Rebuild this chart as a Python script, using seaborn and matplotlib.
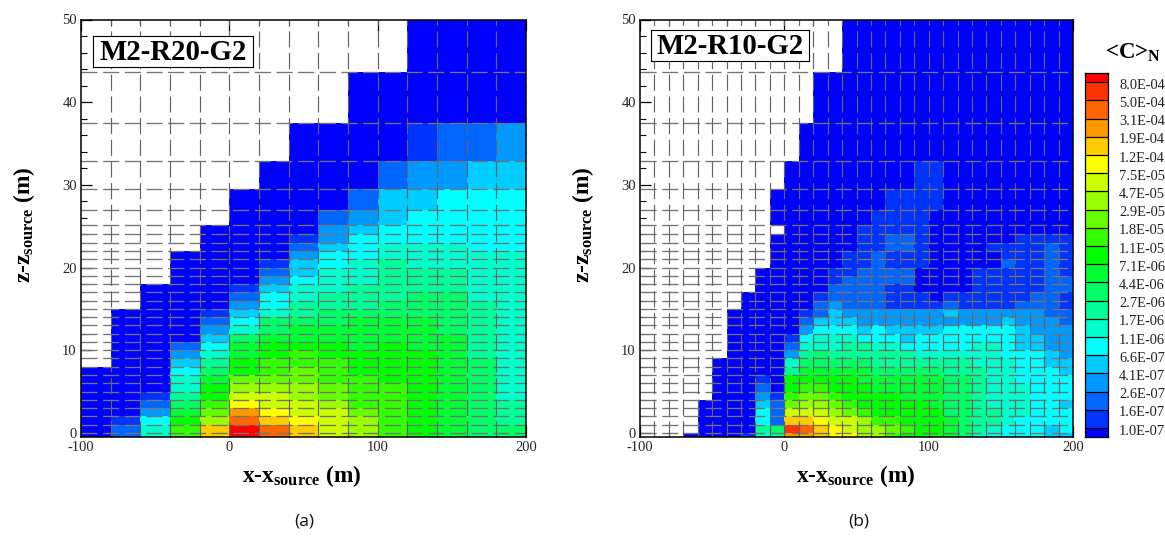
import numpy as np
import matplotlib
matplotlib.use("Agg")
import matplotlib.pyplot as plt
from matplotlib.colors import ListedColormap
from matplotlib.ticker import MultipleLocator
import seaborn as sns

sns.set_theme(style="ticks")
plt.rcParams.update({
    "font.family": ["Liberation Serif", "DejaVu Serif"],
    "mathtext.fontset": "custom",
    "mathtext.rm": "Liberation Serif",
    "mathtext.bf": "Liberation Serif:bold",
    "lines.scale_dashes": False,
    "axes.unicode_minus": False,
})

# Level colours, low (index 0) to high (index 20)
level_colors = ["#0000ff", "#0033ff", "#0066ff", "#0099ff", "#00ccff", "#00ffff", "#00ffcc",
                "#00ff99", "#00ff66", "#00ff33", "#00ff00", "#33ff00", "#66ff00", "#99ff00",
                "#ccff00", "#ffff00", "#ffcc00", "#ff9900", "#ff6600", "#ff3300", "#ff0000"]
level_labels = ["8.0E-04", "5.0E-04", "3.1E-04", "1.9E-04", "1.2E-04", "7.5E-05", "4.7E-05",
                "2.9E-05", "1.8E-05", "1.1E-05", "7.1E-06", "4.4E-06", "2.7E-06", "1.7E-06",
                "1.1E-06", "6.6E-07", "4.1E-07", "2.6E-07", "1.6E-07", "1.0E-07"]
DIGITS = "0123456789abcdefghijk"  # colour level of a cell; '.' = no data

z_upper = [25.2, 27, 29.5, 32.9, 37.5, 43.65, 50]
z_edges_a = [-0.5] + list(range(1, 25)) + z_upper
z_edges_b = [-0.5] + list(range(0, 25)) + z_upper
z_grid = list(range(0, 25)) + z_upper[:-1]
x_edges_a = list(range(-100, 201, 20))
x_edges_b = list(range(-100, 201, 10))

# Panel (a): one string per x column, bottom to top
cols_a = [
    "00000000",
    "210000000000000",
    "653210000000000000",
    "ba98766543200000000000",
    "gdcbaa9876543210000000000",
    "kihfedcaa998654321000000000",
    "igfeedcbbaa98865543210000000",
    "gfeeddccbba998776654432100000",
    "eeedccbbbaa998877666554332000",
    "ddcbbbbaaa99998777666555432000",
    "bbbbbbaaaaa9998877777665544200",
    "aaaaaaaaaa999988877766655543100",
    "9999999999998888877766655553200",
    "8888888887777777666666555554200",
    "8777666666666666666666555554300",
]
# Panel (b): one string per x column, bottom to top
cols_b = [
    "", "", "",
    "0",
    "00000",
    "0000000000",
    "0000000000000000",
    "100000000000000000",
    "675543210000000000000",
    "7822210000000000000000000.00",
    "hjgecbaa763210000000000000000",
    "higedcba98765321" + "0" * 14,
    "ggfedcba98866542" + "21" + "0" * 13,
    "ffedcbaa98766544322" + "11" + "0" * 10,
    "feecbaaa98776543222211" + "1" + "0" * 9,
    "dddbaaa9987754332222211111" + "0" * 6,
    "ddbaaa9987765533" + "2222222" + "1111" + "0" * 5,
    "bcbaaa9987765433" + "111221122111" + "0" * 4,
    "abaaa99987754433" + "111221122111" + "0" * 4,
    "aaaaa99987655433" + "11000" + "11111111" + "000",
    "aaaa999987655433" + "1" + "0" * 10 + "11" + "000",
    "9998888877655534" + "21" + "0" * 14,
    "8888888877655533" + "11" + "0" * 14,
    "6777777776665533" + "11111" + "0" * 11,
    "5677666666665533" + "11111" + "001" + "0" * 8,
    "5566666666555543" + "11111" + "211" + "0" * 8,
    "5556666555544433" + "2" + "11111111" + "0" * 7,
    "5555555555544333" + "22" + "1111111" + "0" * 7,
    "445555555443333" + "222222222" + "1" + "0" * 7,
    "4555455544333322" + "11" + "22" + "11111" + "0" * 7,
]


def to_matrix(cols, nrows):
    m = np.full((nrows, len(cols)), np.nan)
    for j, s in enumerate(cols):
        for i, ch in enumerate(s):
            if ch != ".":
                m[i, j] = DIGITS.index(ch)
    return m


W, H = 1165, 538
fig = plt.figure(figsize=(W / 100, H / 100), dpi=100, facecolor="white")


def px_axes(l, t, r, b):
    return fig.add_axes([l / W, 1 - b / H, (r - l) / W, (b - t) / H])


cmap = ListedColormap(sns.color_palette(level_colors, n_colors=21))
DASH = (0, (11.6, 4.0))


def panel(box, cols, x_edges, z_edges, tag, tag_box):
    ax = px_axes(*box)
    m = to_matrix(cols, len(z_edges) - 1)
    ax.set_facecolor("white")
    ax.pcolormesh(x_edges, z_edges, np.ma.masked_invalid(m), cmap=cmap, vmin=-0.5, vmax=20.5,
                  shading="flat", antialiased=False, linewidth=0, zorder=1)
    ax.set_xlim(-100, 200)
    ax.set_ylim(-0.5, 50)
    for z in z_grid:
        ax.plot([-100, 200], [z, z], color="#747474", lw=0.95, ls=DASH, zorder=2, clip_on=True)
    for x in x_edges[1:-1]:
        ax.plot([x, x], [-0.5, 50], color="#646464", lw=0.85, ls=DASH, zorder=2, clip_on=True)
    ax.xaxis.set_major_locator(MultipleLocator(100))
    ax.xaxis.set_minor_locator(MultipleLocator(20))
    ax.yaxis.set_major_locator(MultipleLocator(10))
    ax.yaxis.set_minor_locator(MultipleLocator(2))
    ax.tick_params(which="major", direction="in", length=8, width=0.9, top=True, right=True,
                   color="black", labelsize=10.5, pad=3, zorder=5)
    ax.tick_params(which="minor", direction="in", length=4.5, width=0.8, top=True, right=True,
                   color="black", zorder=5)
    for sp in ax.spines.values():
        sp.set_linewidth(1.1)
        sp.set_color("black")
        sp.set_zorder(6)
    # run-in label box
    l, t, r, b = tag_box
    box_ax = px_axes(l, t, r, b)
    box_ax.set_xticks([])
    box_ax.set_yticks([])
    box_ax.set_facecolor("white")
    box_ax.set_zorder(10)
    for sp in box_ax.spines.values():
        sp.set_linewidth(0.8)
        sp.set_color("black")
    box_ax.text(0.5, 0.47, tag, ha="center", va="center", fontsize=20.8, fontweight="bold",
                transform=box_ax.transAxes, color="black")
    return ax


panel((81, 19.5, 526, 437), cols_a, x_edges_a, z_edges_a, "M2-R20-G2", (93, 36, 253, 67))
panel((640, 19.5, 1073, 437), cols_b, x_edges_b, z_edges_b, "M2-R10-G2", (651, 30, 809, 61))


def ftext(x, y, s, **kw):
    fig.text(x / W, 1 - y / H, s, ha="center", va="center", **kw)


xlab = r"x-x$_{\mathbf{source}}$ (m)"
zlab = r"z-z$_{\mathbf{source}}$ (m)"
lab = dict(fontsize=16.8, fontweight="bold", color="black")
ftext(302, 476, xlab, **lab)
ftext(856, 476, xlab, **lab)
ftext(24, 225, zlab, rotation=90, **lab)
ftext(583, 225, zlab, rotation=90, **lab)
ftext(304, 522, "(a)", fontsize=12.5, family="Open Sans", color="#111111")
ftext(859, 522, "(b)", fontsize=12.5, family="Open Sans", color="#111111")

# Colour key: half-height end boxes, full boxes between
key_levels = np.repeat(np.arange(20, -1, -1), [1] + [2] * 19 + [1])[:, None]
cax = px_axes(1085, 73, 1108, 437)
sns.heatmap(key_levels, ax=cax, cmap=cmap, vmin=-0.5, vmax=20.5, cbar=False,
            xticklabels=False, yticklabels=False)
n = len(key_levels)
for i in range(1, n, 2):
    cax.axhline(i, color="black", lw=0.9)
for sp in cax.spines.values():
    sp.set_visible(True)
    sp.set_linewidth(0.9)
    sp.set_color("black")
for i, lbl in enumerate(level_labels):
    cax.annotate(lbl, xy=(1, 1 + 2 * i), xycoords=("axes fraction", "data"),
                 xytext=(8, -2.3), textcoords="offset points", va="center", ha="left",
                 fontsize=10.4, color="#222222", annotation_clip=False)

ftext(1133, 53, r"<C>$_{\mathbf{N}}$", fontsize=16.5, fontweight="bold", color="black")

fig.savefig("out.png", dpi=100, facecolor="white")
